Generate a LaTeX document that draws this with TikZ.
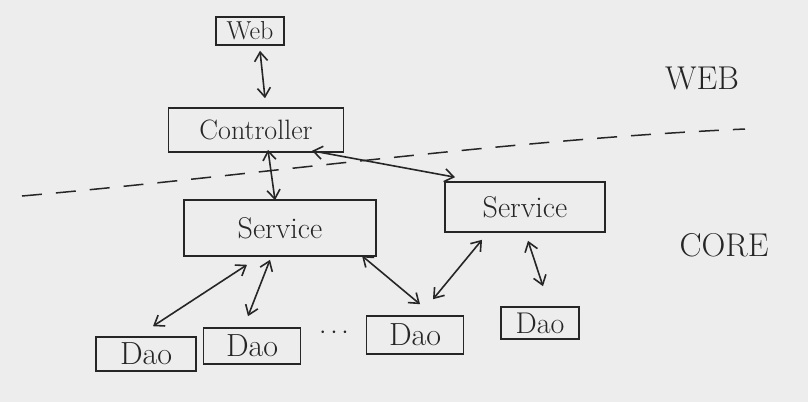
\documentclass[tikz,border=0pt]{standalone}
\usetikzlibrary{arrows.meta,calc}
\begin{document}
\begin{tikzpicture}[x=1pt,y=-1pt,
  ink/.style={draw=black!85,line width=1.6pt},
  box/.style={ink,rectangle,inner sep=0pt,text=black!85},
  arr/.style={ink,{Straight Barb[length=9pt,width=13pt]}-{Straight Barb[length=9pt,width=13pt]}},
  lbl/.style={font=\fontsize{33}{36}\selectfont,text=black!85}]
\fill[black!7] (0,0) rectangle (808,402);
\useasboundingbox (0,0) rectangle (808,402);
% dashed separator
\coordinate (dl) at (22,196);
\coordinate (dr) at (745,129);
\draw[black!85,line width=1.5pt,dash pattern=on 20pt off 14pt] (dl) .. controls (250,176) and (500,140) .. (dr);
% nodes
\node[box,minimum width=68pt,minimum height=28pt,font=\fontsize{26}{28}\selectfont] (web) at (250,31) {Web};
\node[box,minimum width=175pt,minimum height=44pt,font=\fontsize{28}{30}\selectfont] (ctrl) at (256,130) {Controller};
\node[box,minimum width=192pt,minimum height=56pt,font=\fontsize{30}{32}\selectfont] (svc1) at (280,228) {Service};
\node[box,minimum width=160pt,minimum height=50pt,font=\fontsize{30}{32}\selectfont] (svc2) at (525,207) {Service};
\node[box,minimum width=100pt,minimum height=34pt,font=\fontsize{32}{34}\selectfont] (dao1) at (146,354) {Dao};
\node[box,minimum width=97pt,minimum height=36pt,font=\fontsize{32}{34}\selectfont] (dao2) at (252,346) {Dao};
\node[box,minimum width=97pt,minimum height=38pt,font=\fontsize{32}{34}\selectfont] (dao3) at (415,335) {Dao};
\node[box,minimum width=78pt,minimum height=32pt,font=\fontsize{30}{32}\selectfont] (dao4) at (540,323) {Dao};
\node[font=\fontsize{26}{28}\selectfont,text=black!85] (dots) at (334,333) {$\cdots$};
\node[lbl] (weblbl) at (702,78) {WEB};
\node[lbl] (corelbl) at (724,245) {CORE};
% arrows
\draw[arr] ($(web.south)+(10,5)$) -- ($(ctrl.north)+(9,-9)$);
\draw[arr] ($(ctrl.south)+(12,-3)$) -- ($(svc1.north)+(-5,1)$);
\draw[arr] ($(ctrl.south)+(56,-2)$) -- ($(svc2.north)+(-70,-4)$);
\draw[arr] ($(svc1.south)+(-33,8)$) -- ($(dao1.north)+(7,-10)$);
\draw[arr] ($(svc1.south)+(-10,3)$) -- ($(dao2.north)+(-4,-11)$);
\draw[arr] ($(svc1.south)+(82,-1)$) -- ($(dao3.north)+(5,-11)$);
\draw[arr] ($(svc2.south)+(-43,7)$) -- ($(dao3.north)+(18,-16)$);
\draw[arr] ($(svc2.south)+(3,8)$) -- ($(dao4.north)+(3,-20)$);
\end{tikzpicture}
\end{document}
